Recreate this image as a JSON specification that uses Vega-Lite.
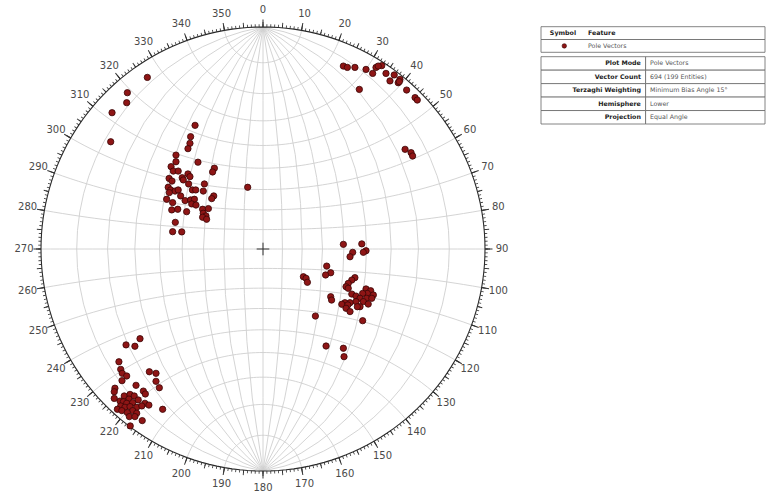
{
  "$schema": "https://vega.github.io/schema/vega-lite/v6.json",
  "background": "white",
  "padding": 0,
  "spacing": 15,
  "bounds": "flush",
  "config": {"view": {"stroke": null}, "font": "DejaVu Sans"},
  "datasets": {
    "deg": [{"a":0},{"a":1},{"a":2},{"a":3},{"a":4},{"a":5},{"a":6},{"a":7},{"a":8},{"a":9},{"a":10},{"a":11},{"a":12},{"a":13},{"a":14},{"a":15},{"a":16},{"a":17},{"a":18},{"a":19},{"a":20},{"a":21},{"a":22},{"a":23},{"a":24},{"a":25},{"a":26},{"a":27},{"a":28},{"a":29},{"a":30},{"a":31},{"a":32},{"a":33},{"a":34},{"a":35},{"a":36},{"a":37},{"a":38},{"a":39},{"a":40},{"a":41},{"a":42},{"a":43},{"a":44},{"a":45},{"a":46},{"a":47},{"a":48},{"a":49},{"a":50},{"a":51},{"a":52},{"a":53},{"a":54},{"a":55},{"a":56},{"a":57},{"a":58},{"a":59},{"a":60},{"a":61},{"a":62},{"a":63},{"a":64},{"a":65},{"a":66},{"a":67},{"a":68},{"a":69},{"a":70},{"a":71},{"a":72},{"a":73},{"a":74},{"a":75},{"a":76},{"a":77},{"a":78},{"a":79},{"a":80},{"a":81},{"a":82},{"a":83},{"a":84},{"a":85},{"a":86},{"a":87},{"a":88},{"a":89},{"a":90},{"a":91},{"a":92},{"a":93},{"a":94},{"a":95},{"a":96},{"a":97},{"a":98},{"a":99},{"a":100},{"a":101},{"a":102},{"a":103},{"a":104},{"a":105},{"a":106},{"a":107},{"a":108},{"a":109},{"a":110},{"a":111},{"a":112},{"a":113},{"a":114},{"a":115},{"a":116},{"a":117},{"a":118},{"a":119},{"a":120},{"a":121},{"a":122},{"a":123},{"a":124},{"a":125},{"a":126},{"a":127},{"a":128},{"a":129},{"a":130},{"a":131},{"a":132},{"a":133},{"a":134},{"a":135},{"a":136},{"a":137},{"a":138},{"a":139},{"a":140},{"a":141},{"a":142},{"a":143},{"a":144},{"a":145},{"a":146},{"a":147},{"a":148},{"a":149},{"a":150},{"a":151},{"a":152},{"a":153},{"a":154},{"a":155},{"a":156},{"a":157},{"a":158},{"a":159},{"a":160},{"a":161},{"a":162},{"a":163},{"a":164},{"a":165},{"a":166},{"a":167},{"a":168},{"a":169},{"a":170},{"a":171},{"a":172},{"a":173},{"a":174},{"a":175},{"a":176},{"a":177},{"a":178},{"a":179},{"a":180},{"a":181},{"a":182},{"a":183},{"a":184},{"a":185},{"a":186},{"a":187},{"a":188},{"a":189},{"a":190},{"a":191},{"a":192},{"a":193},{"a":194},{"a":195},{"a":196},{"a":197},{"a":198},{"a":199},{"a":200},{"a":201},{"a":202},{"a":203},{"a":204},{"a":205},{"a":206},{"a":207},{"a":208},{"a":209},{"a":210},{"a":211},{"a":212},{"a":213},{"a":214},{"a":215},{"a":216},{"a":217},{"a":218},{"a":219},{"a":220},{"a":221},{"a":222},{"a":223},{"a":224},{"a":225},{"a":226},{"a":227},{"a":228},{"a":229},{"a":230},{"a":231},{"a":232},{"a":233},{"a":234},{"a":235},{"a":236},{"a":237},{"a":238},{"a":239},{"a":240},{"a":241},{"a":242},{"a":243},{"a":244},{"a":245},{"a":246},{"a":247},{"a":248},{"a":249},{"a":250},{"a":251},{"a":252},{"a":253},{"a":254},{"a":255},{"a":256},{"a":257},{"a":258},{"a":259},{"a":260},{"a":261},{"a":262},{"a":263},{"a":264},{"a":265},{"a":266},{"a":267},{"a":268},{"a":269},{"a":270},{"a":271},{"a":272},{"a":273},{"a":274},{"a":275},{"a":276},{"a":277},{"a":278},{"a":279},{"a":280},{"a":281},{"a":282},{"a":283},{"a":284},{"a":285},{"a":286},{"a":287},{"a":288},{"a":289},{"a":290},{"a":291},{"a":292},{"a":293},{"a":294},{"a":295},{"a":296},{"a":297},{"a":298},{"a":299},{"a":300},{"a":301},{"a":302},{"a":303},{"a":304},{"a":305},{"a":306},{"a":307},{"a":308},{"a":309},{"a":310},{"a":311},{"a":312},{"a":313},{"a":314},{"a":315},{"a":316},{"a":317},{"a":318},{"a":319},{"a":320},{"a":321},{"a":322},{"a":323},{"a":324},{"a":325},{"a":326},{"a":327},{"a":328},{"a":329},{"a":330},{"a":331},{"a":332},{"a":333},{"a":334},{"a":335},{"a":336},{"a":337},{"a":338},{"a":339},{"a":340},{"a":341},{"a":342},{"a":343},{"a":344},{"a":345},{"a":346},{"a":347},{"a":348},{"a":349},{"a":350},{"a":351},{"a":352},{"a":353},{"a":354},{"a":355},{"a":356},{"a":357},{"a":358},{"a":359}],
    "poles": [
      {"x":-0.521,"y":0.773},{"x":-0.611,"y":0.704},{"x":-0.614,"y":0.659},{"x":-0.680,"y":0.614},{"x":-0.686,"y":0.483},
      {"x":-0.306,"y":0.557},{"x":-0.326,"y":0.506},{"x":-0.329,"y":0.476},{"x":-0.338,"y":0.452},{"x":-0.392,"y":0.423},
      {"x":-0.392,"y":0.393},{"x":-0.293,"y":0.391},{"x":-0.414,"y":0.371},{"x":-0.404,"y":0.351},{"x":-0.382,"y":0.351},
      {"x":-0.219,"y":0.364},{"x":-0.227,"y":0.347},{"x":-0.338,"y":0.338},{"x":-0.329,"y":0.326},{"x":-0.364,"y":0.321},
      {"x":-0.359,"y":0.311},{"x":-0.423,"y":0.318},{"x":-0.410,"y":0.306},{"x":-0.335,"y":0.293},{"x":-0.264,"y":0.293},
      {"x":-0.069,"y":0.278},{"x":-0.427,"y":0.278},{"x":-0.416,"y":0.266},{"x":-0.396,"y":0.261},{"x":-0.422,"y":0.254},
      {"x":-0.382,"y":0.266},{"x":-0.318,"y":0.266},{"x":-0.303,"y":0.266},{"x":-0.269,"y":0.261},{"x":-0.371,"y":0.239},
      {"x":-0.222,"y":0.239},{"x":-0.231,"y":0.227},{"x":-0.434,"y":0.224},{"x":-0.407,"y":0.209},{"x":-0.351,"y":0.218},
      {"x":-0.326,"y":0.221},{"x":-0.309,"y":0.224},{"x":-0.321,"y":0.203},{"x":-0.302,"y":0.198},{"x":-0.411,"y":0.176},
      {"x":-0.384,"y":0.179},{"x":-0.344,"y":0.168},{"x":-0.272,"y":0.179},{"x":-0.246,"y":0.182},{"x":-0.269,"y":0.161},
      {"x":-0.257,"y":0.149},{"x":-0.272,"y":0.143},{"x":-0.254,"y":0.134},{"x":-0.395,"y":0.120},{"x":-0.407,"y":0.078},
      {"x":-0.366,"y":0.077},
      {"x":-0.554,"y":-0.404},{"x":-0.617,"y":-0.432},{"x":-0.577,"y":-0.438},{"x":-0.649,"y":-0.508},{"x":-0.641,"y":-0.542},
      {"x":-0.634,"y":-0.560},{"x":-0.614,"y":-0.572},{"x":-0.512,"y":-0.553},{"x":-0.482,"y":-0.560},{"x":-0.635,"y":-0.593},
      {"x":-0.482,"y":-0.596},{"x":-0.467,"y":-0.625},{"x":-0.572,"y":-0.614},{"x":-0.667,"y":-0.627},{"x":-0.670,"y":-0.643},
      {"x":-0.539,"y":-0.640},{"x":-0.530,"y":-0.653},{"x":-0.670,"y":-0.673},{"x":-0.625,"y":-0.662},{"x":-0.599,"y":-0.655},
      {"x":-0.580,"y":-0.662},{"x":-0.562,"y":-0.680},{"x":-0.604,"y":-0.676},{"x":-0.644,"y":-0.685},{"x":-0.629,"y":-0.688},
      {"x":-0.614,"y":-0.695},{"x":-0.587,"y":-0.692},{"x":-0.532,"y":-0.695},{"x":-0.514,"y":-0.703},{"x":-0.641,"y":-0.707},
      {"x":-0.622,"y":-0.713},{"x":-0.599,"y":-0.710},{"x":-0.569,"y":-0.713},{"x":-0.546,"y":-0.707},{"x":-0.656,"y":-0.722},
      {"x":-0.452,"y":-0.722},{"x":-0.636,"y":-0.728},{"x":-0.587,"y":-0.728},{"x":-0.611,"y":-0.737},{"x":-0.569,"y":-0.740},
      {"x":-0.602,"y":-0.755},{"x":-0.577,"y":-0.755},{"x":-0.544,"y":-0.773},{"x":-0.598,"y":-0.797},
      {"x":0.362,"y":0.021},{"x":0.445,"y":0.023},{"x":0.464,"y":-0.008},{"x":0.452,"y":-0.015},{"x":0.404,"y":-0.015},
      {"x":0.392,"y":-0.035},{"x":0.287,"y":-0.077},{"x":0.305,"y":-0.107},{"x":0.282,"y":-0.117},{"x":0.182,"y":-0.125},
      {"x":0.194,"y":-0.132},{"x":0.200,"y":-0.150},{"x":0.414,"y":-0.129},{"x":0.400,"y":-0.140},{"x":0.384,"y":-0.155},
      {"x":0.374,"y":-0.170},{"x":0.384,"y":-0.177},{"x":0.464,"y":-0.180},{"x":0.485,"y":-0.188},{"x":0.470,"y":-0.200},
      {"x":0.497,"y":-0.207},{"x":0.449,"y":-0.200},{"x":0.400,"y":-0.203},{"x":0.419,"y":-0.212},{"x":0.305,"y":-0.215},
      {"x":0.309,"y":-0.230},{"x":0.437,"y":-0.222},{"x":0.467,"y":-0.222},{"x":0.490,"y":-0.222},{"x":0.452,"y":-0.237},
      {"x":0.419,"y":-0.237},{"x":0.392,"y":-0.242},{"x":0.369,"y":-0.242},{"x":0.355,"y":-0.249},{"x":0.382,"y":-0.252},
      {"x":0.474,"y":-0.248},{"x":0.437,"y":-0.260},{"x":0.425,"y":-0.260},{"x":0.374,"y":-0.267},{"x":0.392,"y":-0.282},
      {"x":0.236,"y":-0.302},{"x":0.449,"y":-0.323},{"x":0.284,"y":-0.437},{"x":0.362,"y":-0.447},{"x":0.365,"y":-0.485},
      {"x":0.362,"y":0.824},{"x":0.380,"y":0.818},{"x":0.414,"y":0.818},{"x":0.464,"y":0.809},{"x":0.494,"y":0.791},
      {"x":0.509,"y":0.818},{"x":0.535,"y":0.826},{"x":0.519,"y":0.824},{"x":0.554,"y":0.791},{"x":0.591,"y":0.784},
      {"x":0.572,"y":0.757},{"x":0.617,"y":0.764},{"x":0.609,"y":0.749},{"x":0.614,"y":0.754},{"x":0.434,"y":0.719},
      {"x":0.647,"y":0.716},{"x":0.685,"y":0.682},{"x":0.695,"y":0.671},{"x":0.640,"y":0.449},{"x":0.667,"y":0.434},
      {"x":0.674,"y":0.419}
    ]
  },
  "hconcat": [
    {
      "width": 526,
      "height": 498,
      "projection": {"type": "stereographic", "clipAngle": 90, "scale": 222, "translate": [263, 249]},
      "layer": [
        {
          "data": {"graticule": {"step": [10, 10], "extent": [[-180, -89.99], [180, 89.99]]}},
          "mark": {"type": "geoshape", "filled": false, "stroke": "#cfcfcf", "strokeWidth": 0.9}
        },
        {
          "data": {"sphere": true},
          "mark": {"type": "geoshape", "filled": false, "stroke": "#2a2a2a", "strokeWidth": 1.1}
        },
        {
          "data": {"name": "deg"},
          "mark": {"type": "arc", "radius": 224.8, "radius2": 222, "thetaOffset": -0.0018, "theta2Offset": 0.0018, "fill": "#333333"},
          "encoding": {
            "theta": {"field": "a", "type": "quantitative", "stack": null, "scale": {"domain": [0, 360], "range": [0, 6.283185307179586]}},
            "theta2": {"field": "a"}
          }
        },
        {
          "data": {"name": "deg"},
          "transform": [{"filter": "datum.a % 5 == 0"}],
          "mark": {"type": "arc", "radius": 227, "radius2": 222, "thetaOffset": -0.002, "theta2Offset": 0.002, "fill": "#333333"},
          "encoding": {
            "theta": {"field": "a", "type": "quantitative", "stack": null, "scale": {"domain": [0, 360], "range": [0, 6.283185307179586]}},
            "theta2": {"field": "a"}
          }
        },
        {
          "data": {"name": "deg"},
          "transform": [{"filter": "datum.a % 10 == 0"}],
          "mark": {"type": "arc", "radius": 229.5, "radius2": 222, "thetaOffset": -0.0022, "theta2Offset": 0.0022, "fill": "#333333"},
          "encoding": {
            "theta": {"field": "a", "type": "quantitative", "stack": null, "scale": {"domain": [0, 360], "range": [0, 6.283185307179586]}},
            "theta2": {"field": "a"}
          }
        },
        {
          "data": {"name": "deg"},
          "transform": [{"filter": "datum.a % 10 == 0"}],
          "mark": {"type": "text", "radius": 239, "fontSize": 10, "font": "DejaVu Sans", "fill": "#4a4a4a", "align": "center", "baseline": "middle"},
          "encoding": {
            "theta": {"field": "a", "type": "quantitative", "stack": null, "scale": {"domain": [0, 360], "range": [0, 6.283185307179586]}},
            "text": {"field": "a", "type": "quantitative"}
          }
        },
        {
          "data": {"name": "poles"},
          "mark": {"type": "point", "filled": true, "fill": "#8e1515", "stroke": "#3a0606", "strokeWidth": 0.8, "size": 40, "opacity": 1},
          "encoding": {
            "x": {"field": "x", "type": "quantitative", "scale": {"domain": [-1.18468, 1.18468], "nice": false, "zero": false}, "axis": null},
            "y": {"field": "y", "type": "quantitative", "scale": {"domain": [-1.12162, 1.12162], "nice": false, "zero": false}, "axis": null}
          }
        },
        {
          "data": {"values": [{"x": 0, "y": 0}]},
          "mark": {"type": "point", "shape": "M-1,0L1,0M0,-1L0,1", "size": 160, "filled": false, "stroke": "#333333", "strokeWidth": 1, "opacity": 1},
          "encoding": {
            "x": {"field": "x", "type": "quantitative"},
            "y": {"field": "y", "type": "quantitative"}
          }
        }
      ]
    },
    {
      "width": 224,
      "height": 498,
      "resolve": {"scale": {"y": "independent"}},
      "layer": [
        {
          "data": {"values": [{"k": "h", "a": "Symbol", "b": "Feature"}, {"k": "r", "a": "", "b": "Pole Vectors"}]},
          "encoding": {
            "y": {"field": "k", "type": "nominal", "scale": {"type": "band", "domain": ["h", "r"], "range": [26.7, 52.3], "paddingInner": 0, "paddingOuter": 0}, "axis": null}
          },
          "layer": [
            {
              "mark": {"type": "rect", "fill": "white", "stroke": "#666666", "strokeWidth": 0.8},
              "encoding": {
                "x": {"datum": 0, "type": "quantitative", "scale": {"domain": [0, 1], "nice": false, "zero": false}, "axis": null},
                "x2": {"datum": 1}
              }
            },
            {
              "transform": [{"filter": "datum.k == 'h'"}],
              "mark": {"type": "text", "fontSize": 6.3, "fontWeight": "bold", "fill": "#222222", "align": "center"},
              "encoding": {"x": {"datum": 0.098, "type": "quantitative"}, "text": {"field": "a"}}
            },
            {
              "transform": [{"filter": "datum.k == 'h'"}],
              "mark": {"type": "text", "fontSize": 6.3, "fontWeight": "bold", "fill": "#222222", "align": "left"},
              "encoding": {"x": {"datum": 0.21, "type": "quantitative"}, "text": {"field": "b"}}
            },
            {
              "transform": [{"filter": "datum.k == 'r'"}],
              "mark": {"type": "text", "fontSize": 6.3, "fill": "#555555", "align": "left"},
              "encoding": {"x": {"datum": 0.21, "type": "quantitative"}, "text": {"field": "b"}}
            },
            {
              "transform": [{"filter": "datum.k == 'r'"}],
              "mark": {"type": "point", "filled": true, "fill": "#8e1515", "stroke": "#3a0606", "strokeWidth": 0.6, "size": 20, "opacity": 1},
              "encoding": {"x": {"datum": 0.104, "type": "quantitative"}}
            }
          ]
        },
        {
          "data": {"values": [
            {"k": "Plot Mode", "v": "Pole Vectors"},
            {"k": "Vector Count", "v": "694 (199 Entities)"},
            {"k": "Terzaghi Weighting", "v": "Minimum Bias Angle 15°"},
            {"k": "Hemisphere", "v": "Lower"},
            {"k": "Projection", "v": "Equal Angle"}
          ]},
          "encoding": {
            "y": {"field": "k", "type": "nominal", "scale": {"type": "band", "domain": ["Plot Mode", "Vector Count", "Terzaghi Weighting", "Hemisphere", "Projection"], "range": [56.7, 124], "paddingInner": 0, "paddingOuter": 0}, "axis": null}
          },
          "layer": [
            {
              "mark": {"type": "rect", "fill": "white", "stroke": "#666666", "strokeWidth": 0.8},
              "encoding": {"x": {"datum": 0, "type": "quantitative"}, "x2": {"datum": 0.467}}
            },
            {
              "mark": {"type": "rect", "fill": "white", "stroke": "#666666", "strokeWidth": 0.8},
              "encoding": {"x": {"datum": 0.467, "type": "quantitative"}, "x2": {"datum": 1}}
            },
            {
              "mark": {"type": "text", "fontSize": 6.3, "fontWeight": "bold", "fill": "#222222", "align": "right"},
              "encoding": {"x": {"datum": 0.446, "type": "quantitative"}, "text": {"field": "k"}}
            },
            {
              "mark": {"type": "text", "fontSize": 6.3, "fill": "#555555", "align": "left"},
              "encoding": {"x": {"datum": 0.487, "type": "quantitative"}, "text": {"field": "v"}}
            }
          ]
        }
      ]
    }
  ]
}
